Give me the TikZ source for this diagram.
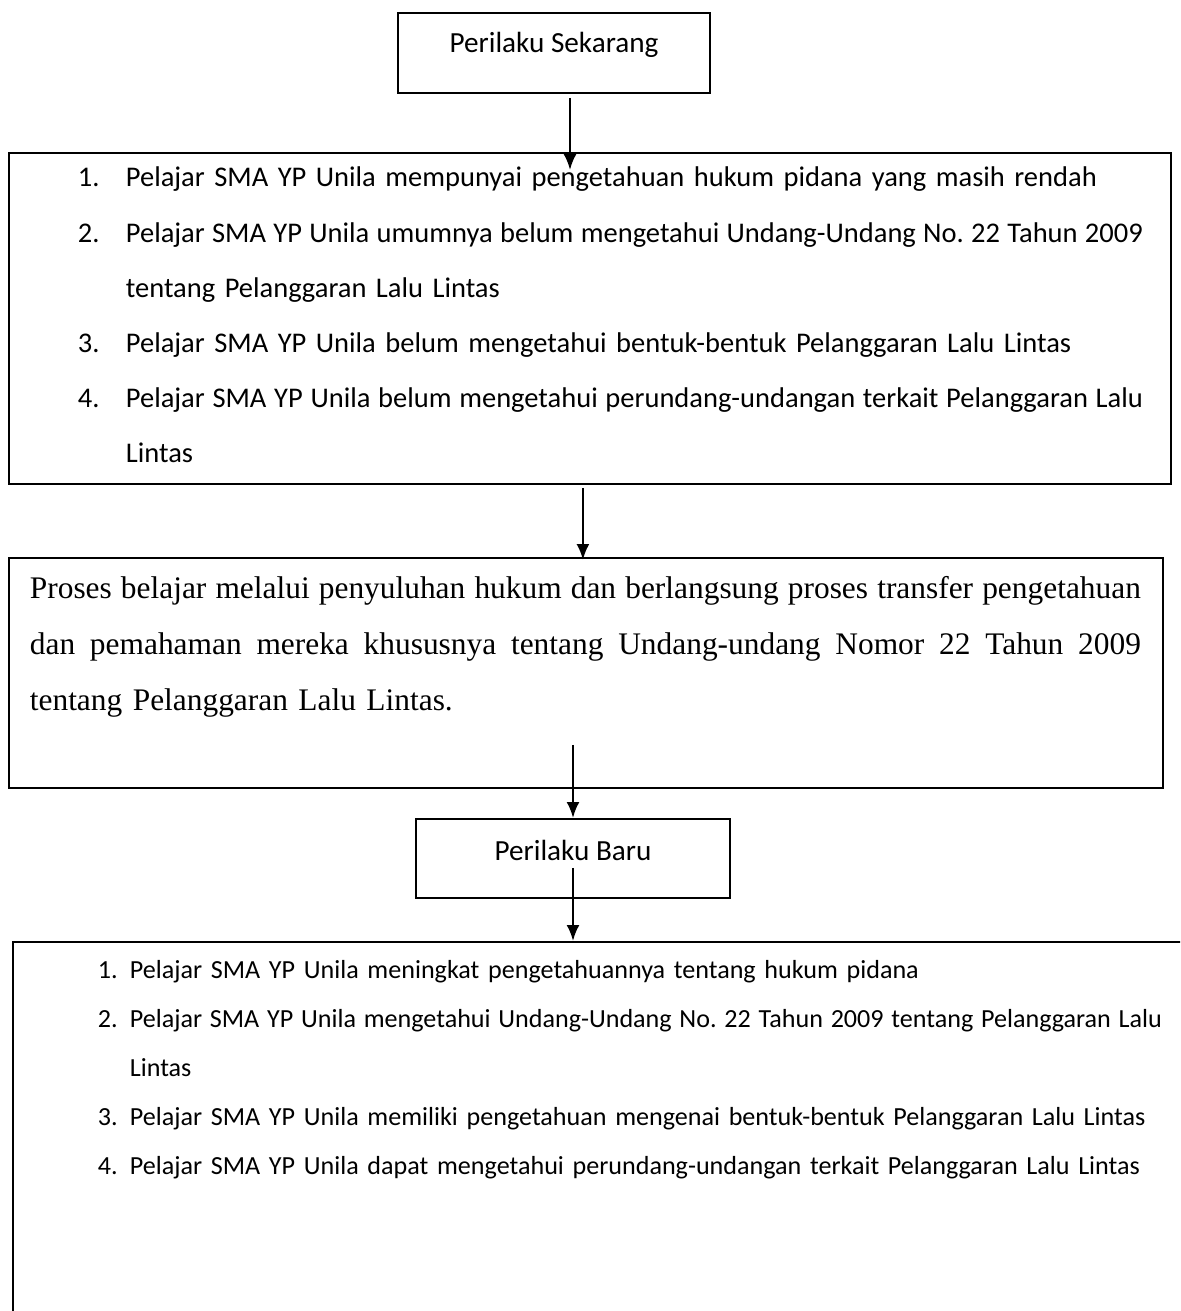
\documentclass[tikz,border=0pt]{standalone}
\usepackage{fontspec}
\setmainfont{Carlito}
\newfontfamily\timesfont{Liberation Serif}
\usetikzlibrary{arrows.meta}

% baris rata kiri-kanan dengan lebar tertentu
\newcommand{\barisrata}[2]{\makebox[#1][s]{\spaceskip=\fontdimen2\font plus 1fil minus 0.12em\relax #2}}

\begin{document}
\begin{tikzpicture}[
    x=0.5pt, y=-0.5pt, % 1 satuan = 1 piksel gambar
    >={Latex[length=8pt,width=6.5pt]}, % gaya panah
    kotak/.style={draw, line width=0.9pt, inner sep=0pt},
    panah/.style={->, line width=1.2pt},
    ]

    % --- bidang gambar ---
    \useasboundingbox (0,0) rectangle (1180,1311);
    \clip (0,0) rectangle (1180,1311);

    % --- kotak-kotak ---
    % perilaku sekarang
    \node[kotak, anchor=north, minimum width=156pt, text height=19.7pt, text depth=20.3pt,
        font=\fontsize{14.6}{17}\selectfont] (sekarang) at (554,12) {Perilaku Sekarang};

    % daftar masalah
    \node[kotak, anchor=north west, text width=581pt, align=left, text depth=148.5pt,
        font=\fontsize{14.25}{27.6}\selectfont] (masalah) at (8,152)
        {\rule{0pt}{17pt}\hspace*{34.5pt}\makebox[24pt][l]{1.}Pelajar SMA YP Unila mempunyai pengetahuan hukum pidana yang masih rendah\\
        \hspace*{34.5pt}\makebox[24pt][l]{2.}\barisrata{508.5pt}{Pelajar SMA YP Unila umumnya belum mengetahui Undang-Undang No.\ 22 Tahun 2009}\\
        \hspace*{58.5pt}tentang Pelanggaran Lalu Lintas\\
        \hspace*{34.5pt}\makebox[24pt][l]{3.}Pelajar SMA YP Unila belum mengetahui bentuk-bentuk Pelanggaran Lalu Lintas\\
        \hspace*{34.5pt}\makebox[24pt][l]{4.}\barisrata{508.5pt}{Pelajar SMA YP Unila belum mengetahui perundang-undangan terkait Pelanggaran Lalu}\\
        \hspace*{58.5pt}Lintas};

    % proses belajar
    \node[kotak, anchor=north west, inner xsep=10.5pt, text width=556pt, align=left, text depth=94.5pt,
        font=\timesfont\fontsize{15.7}{28}\selectfont] (proses) at (8,557)
        {\rule{0pt}{20.5pt}\barisrata{555.5pt}{Proses belajar melalui penyuluhan hukum dan berlangsung proses transfer pengetahuan}\\
        \barisrata{555.5pt}{dan pemahaman mereka khususnya tentang Undang-undang Nomor 22 Tahun 2009}\\
        tentang Pelanggaran Lalu Lintas.};

    % perilaku baru
    \node[kotak, anchor=north, minimum width=157pt, text height=20.7pt, text depth=18.8pt,
        font=\fontsize{14.6}{17}\selectfont] (baru) at (573,818) {Perilaku Baru};

    % hasil (kotak terpotong di kanan dan bawah)
    \node[kotak, anchor=north west, text width=650pt, align=left, text depth=190pt,
        font=\fontsize{13.05}{24.5}\selectfont] (hasil) at (12,941)
        {\rule{0pt}{18.5pt}\hspace*{42.5pt}\makebox[16pt][l]{1.}Pelajar SMA YP Unila meningkat pengetahuannya tentang hukum pidana\\
        \hspace*{42.5pt}\makebox[16pt][l]{2.}\barisrata{516pt}{Pelajar SMA YP Unila mengetahui Undang-Undang No.\ 22 Tahun 2009 tentang Pelanggaran Lalu}\\
        \hspace*{58.5pt}Lintas\\
        \hspace*{42.5pt}\makebox[16pt][l]{3.}Pelajar SMA YP Unila memiliki pengetahuan mengenai bentuk-bentuk Pelanggaran Lalu Lintas\\
        \hspace*{42.5pt}\makebox[16pt][l]{4.}Pelajar SMA YP Unila dapat mengetahui perundang-undangan terkait Pelanggaran Lalu Lintas};

    % --- panah ---
    \draw[panah] ([xshift=8pt,yshift=-2pt]sekarang.south) -- ([xshift=8pt,yshift=-9pt]sekarang.south |- masalah.north);
    \draw[panah] ([xshift=-3.5pt,yshift=-1.5pt]masalah.south) -- ([xshift=-3.5pt,yshift=-1.5pt]masalah.south |- proses.north);
    \draw[panah] ([yshift=22pt]baru.north |- proses.south) -- (baru.north);
    \draw[panah] ([yshift=15.5pt]baru.south) -- (baru.south |- hasil.north);

\end{tikzpicture}
\end{document}
